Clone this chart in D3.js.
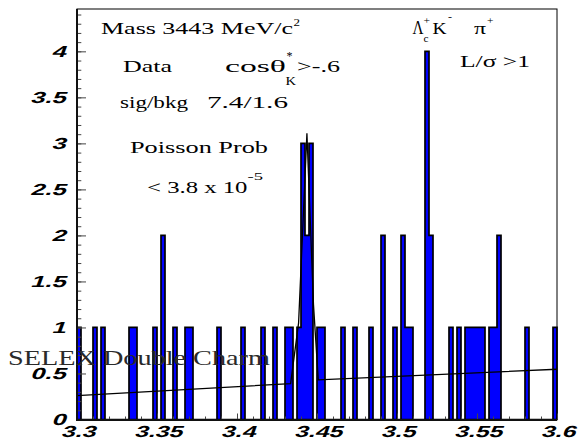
<!DOCTYPE html>
<html>
<head>
<meta charset="utf-8">
<script src="https://cdn.jsdelivr.net/npm/d3@7/dist/d3.min.js"></script>
<style>
  html, body { margin: 0; padding: 0; background: #fff; }
  svg { display: block; }
</style>
</head>
<body>
<svg id="chart" width="579" height="442"></svg>
<script>
// Histogram binning: 120 bins of 2.5 MeV between 3.3 and 3.6 GeV
const massMin = 3.3, massMax = 3.6, binCountTotal = 120;

// Occupied bins (index) and their entries
const eventBins   = [0, 4, 6, 13, 14, 19, 21, 24, 27, 28, 35, 41, 46, 49, 52, 53, 55, 56, 57, 58,
                     60, 61, 66, 69, 73, 76, 79, 81, 82, 83, 87, 88, 93, 95, 97, 98, 99, 100, 101,
                     103, 104, 105, 112, 119];
const eventCounts = [1, 1, 1, 1, 1, 1, 2, 1, 1, 1, 1, 1, 1, 1, 1, 1, 1, 3, 2, 3,
                     1, 1, 1, 1, 1, 2, 1, 2, 1, 1, 4, 2, 1, 1, 1, 1, 1, 1, 1,
                     1, 1, 2, 1, 1];

// Fitted curve (linear background + narrow peak), as drawn
const fitMass  = [3.3, 3.4335, 3.4385, 3.4437, 3.4478, 3.4508, 3.6];
const fitValue = [0.26, 0.39, 1.05, 3.11, 1.25, 0.43, 0.546];

// Axis ticks
const yMajorTicks = [0, 0.5, 1, 1.5, 2, 2.5, 3, 3.5, 4];
const yTickLabels = ["0", "0.5", "1", "1.5", "2", "2.5", "3", "3.5", "4"];
const xMajorTicks = [3.3, 3.35, 3.4, 3.45, 3.5, 3.55, 3.6];
const xTickLabels = ["3.3", "3.35", "3.4", "3.45", "3.5", "3.55", "3.6"];
const yMax = 4.46;

const svg = d3.select("#chart");
const plot = { left: 77, right: 557, top: 9, bottom: 419.5 };

const x = d3.scaleLinear().domain([massMin, massMax]).range([plot.left, plot.right]);
const y = d3.scaleLinear().domain([0, yMax]).range([plot.bottom, plot.top]);

// Full bin contents
const binWidth = (massMax - massMin) / binCountTotal;
const contents = d3.range(binCountTotal).map(() => 0);
eventBins.forEach((b, i) => { contents[b] = eventCounts[i]; });

// Histogram contour (filled step outline)
const stepPts = [[massMin, 0]];
contents.forEach((c, i) => stepPts.push([massMin + i * binWidth, c]));
stepPts.push([massMax, contents[binCountTotal - 1]]);
stepPts.push([massMax, 0]);

const stepLine = d3.line()
  .x(d => x(d[0]))
  .y(d => y(d[1]))
  .curve(d3.curveStepAfter);

svg.append("path")
  .attr("d", stepLine(stepPts) + "Z")
  .attr("fill", "#0000ff")
  .attr("stroke", "#000")
  .attr("stroke-width", 1.7)
  .attr("stroke-linejoin", "miter");

// Fit curve
const fitLine = d3.line().x((d, i) => x(fitMass[i])).y((d, i) => y(fitValue[i]));
svg.append("path")
  .attr("d", fitLine(fitMass))
  .attr("fill", "none")
  .attr("stroke", "#000")
  .attr("stroke-width", 1.3);

// Frame
svg.append("rect")
  .attr("x", plot.left).attr("y", plot.top)
  .attr("width", plot.right - plot.left).attr("height", plot.bottom - plot.top)
  .attr("fill", "none").attr("stroke", "#000").attr("stroke-width", 1);

// Y axis ticks (pointing inward)
const yMinor = d3.range(0, 4.45, 0.1).map(v => Math.round(v * 10) / 10);
const yAxisMinor = svg.append("g").attr("transform", `translate(${plot.left},0)`)
  .call(d3.axisLeft(y).tickValues(yMinor).tickSize(-4.3).tickFormat(""));
const yAxisMajor = svg.append("g").attr("transform", `translate(${plot.left},0)`)
  .call(d3.axisLeft(y).tickValues(yMajorTicks).tickSize(-9).tickFormat(""));
[yAxisMinor, yAxisMajor].forEach(g => {
  g.select(".domain").remove();
  g.selectAll(".tick line").attr("stroke", "#444").attr("stroke-width", 1);
});

// X axis ticks (pointing inward)
const xMinor = d3.range(3.3, 3.6001, 0.01).map(v => Math.round(v * 100) / 100);
const xAxisMinor = svg.append("g").attr("transform", `translate(0,${plot.bottom})`)
  .call(d3.axisBottom(x).tickValues(xMinor).tickSize(-3).tickFormat(""));
const xAxisMajor = svg.append("g").attr("transform", `translate(0,${plot.bottom})`)
  .call(d3.axisBottom(x).tickValues(xMajorTicks).tickSize(-6).tickFormat(""));
[xAxisMinor, xAxisMajor].forEach(g => {
  g.select(".domain").remove();
  g.selectAll(".tick line").attr("stroke", "#444").attr("stroke-width", 1);
});

// Axis lines
svg.append("line").attr("x1", plot.left).attr("x2", plot.left)
  .attr("y1", plot.top).attr("y2", plot.bottom + 1)
  .attr("stroke", "#111").attr("stroke-width", 2);
svg.append("line").attr("x1", plot.left - 1).attr("x2", plot.right)
  .attr("y1", plot.bottom + 0.5).attr("y2", plot.bottom + 0.5)
  .attr("stroke", "#111").attr("stroke-width", 2);

// Tick labels (bold slanted sans, horizontally widened)
const tickFont = "'Liberation Sans', Arial, sans-serif";
yMajorTicks.forEach((v, i) => {
  svg.append("g")
    .attr("transform", `translate(65.5,${y(v) + 5.8}) scale(1.6,1) skewX(-13)`)
    .append("text")
    .attr("text-anchor", "end")
    .attr("font-family", tickFont).attr("font-weight", "bold")
    .attr("font-size", 16).attr("fill", "#000")
    .text(yTickLabels[i]);
});
xMajorTicks.forEach((v, i) => {
  svg.append("g")
    .attr("transform", `translate(${x(v) + 1},436.5) scale(1.55,1) skewX(-13)`)
    .append("text")
    .attr("text-anchor", "middle")
    .attr("font-family", tickFont).attr("font-weight", "bold")
    .attr("font-size", 16).attr("fill", "#000")
    .text(xTickLabels[i]);
});

// Annotation text (serif), each piece placed at its left edge and baseline
const serif = "'Liberation Serif', 'Times New Roman', serif";
function note(x0, base, str, size, width, color) {
  return svg.append("text")
    .attr("x", x0).attr("y", base)
    .attr("font-family", serif).attr("font-size", size)
    .attr("fill", color || "#000")
    .attr("textLength", width).attr("lengthAdjust", "spacingAndGlyphs")
    .text(str);
}

note(101, 34, "Mass 3443 MeV/c", 16, 192);
note(293.5, 25.5, "2", 11, 6.5);

note(412.5, 34, "\u039B", 19, 11);
note(423.5, 41.5, "c", 11, 5);
note(423.5, 23.5, "+", 11, 6.5);
note(432.5, 34, "K", 16, 14);
note(448, 20, "-", 11, 4);
note(474, 34, "\u03C0", 16, 12);
note(487, 23.5, "+", 11, 6.5);

note(123, 71.7, "Data", 16, 49);
note(225, 71.7, "cos\u03B8", 16, 61);
note(286.5, 59.5, "*", 13, 6);
note(285.5, 84.5, "K", 13, 10.5);
note(297, 71.7, ">-.6", 16, 43);

note(460, 66.7, "L/\u03C3 >1", 16, 70);

note(120, 107.8, "sig/bkg", 16, 68);
note(207, 107.8, "7.4/1.6", 16, 81);

note(130, 153.2, "Poisson Prob", 16, 138);
note(147, 193.2, "< 3.8 x 10", 16, 100.5);
note(247.5, 180, "-5", 11, 15.5);

note(8, 365, "SELEX Double Charm", 21, 262, "#2a2a2a");
</script>
</body>
</html>
